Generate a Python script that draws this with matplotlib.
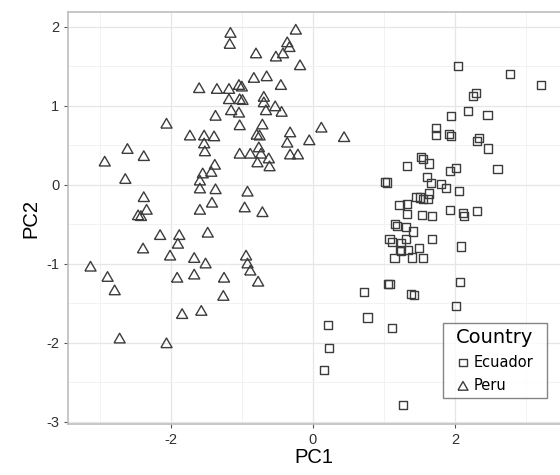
import matplotlib

matplotlib.use("Agg")
import matplotlib.pyplot as plt
from matplotlib.path import Path
from matplotlib.ticker import MultipleLocator

# PCA scores
peru_pc1 = [
    -1.16, -1.17, -0.80, -0.83, -1.60, -1.35, -1.18, -1.04, -1.00, -1.18,
    -1.03, -0.99, -1.15, -1.04, -1.37, -2.06, -1.03, -1.73, -1.53, -1.39,
    -1.53, -1.52, -2.61, -2.38, -2.93, -2.64, -1.38, -1.43, -1.55, -1.59,
    -1.59, -1.37, -0.92, -1.42, -1.59, -0.96, -2.38, -2.34, -2.46, -2.42,
    -2.15, -1.88, -1.90, -1.48, -2.39, -2.01, -1.67, -1.51, -3.13, -2.89,
    -2.79, -1.91, -1.67, -1.25, -1.26, -1.84, -1.57, -2.72, -2.06, -0.24,
    -0.36, -0.33, -0.42, -0.52, -0.18, -0.65, -0.45, -0.69, -0.69, -0.66,
    -0.53, -0.44, -0.71, -0.79, -0.75, 0.12, 0.44, -0.32, -0.36, -0.05,
    -1.03, -0.88, -0.76, -0.73, -0.62, -0.78, -0.61, -0.32, -0.21, -0.71,
    -0.94, -0.92, -0.88, -0.77,
]
peru_pc2 = [
    1.93, 1.79, 1.67, 1.36, 1.23, 1.22, 1.22, 1.27, 1.25, 1.09,
    1.09, 1.08, 0.95, 0.92, 0.88, 0.78, 0.76, 0.63, 0.63, 0.62,
    0.53, 0.43, 0.46, 0.37, 0.30, 0.08, 0.26, 0.17, 0.15, 0.06,
    -0.04, -0.05, -0.08, -0.22, -0.31, -0.28, -0.15, -0.31, -0.38, -0.39,
    -0.63, -0.63, -0.74, -0.60, -0.80, -0.89, -0.92, -0.99, -1.03, -1.16,
    -1.33, -1.17, -1.13, -1.17, -1.40, -1.63, -1.59, -1.94, -2.00, 1.97,
    1.81, 1.75, 1.67, 1.63, 1.52, 1.38, 1.27, 1.12, 1.05, 0.95,
    1.00, 0.93, 0.77, 0.64, 0.63, 0.73, 0.61, 0.67, 0.54, 0.57,
    0.40, 0.40, 0.48, 0.40, 0.34, 0.29, 0.24, 0.39, 0.39, -0.34,
    -0.89, -0.99, -1.08, -1.22,
]
ecuador_pc1 = [
    0.72, 0.77, 0.21, 0.23, 0.16, 2.05, 2.78, 3.21, 2.30, 2.25,
    2.18, 2.46, 1.95, 1.73, 1.74, 1.92, 1.95, 2.34, 2.31, 2.47,
    1.52, 1.55, 1.63, 1.32, 2.60, 2.01, 1.93, 1.02, 1.04, 1.61,
    1.67, 1.80, 1.88, 2.06, 1.46, 1.51, 1.55, 1.62, 1.64, 1.22,
    1.33, 1.33, 1.54, 1.68, 1.93, 2.12, 2.13, 2.31, 1.16, 1.18,
    1.31, 1.41, 1.68, 1.08, 1.12, 1.31, 1.24, 1.23, 1.24, 1.34,
    1.50, 1.15, 1.40, 1.55, 2.08, 2.07, 2.01, 1.06, 1.08, 1.38,
    1.43, 1.11, 1.27,
]
ecuador_pc2 = [
    -1.36, -1.68, -1.77, -2.06, -2.34, 1.51, 1.40, 1.26, 1.16, 1.13,
    0.93, 0.89, 0.87, 0.72, 0.63, 0.64, 0.62, 0.59, 0.55, 0.46,
    0.35, 0.33, 0.27, 0.24, 0.20, 0.21, 0.17, 0.04, 0.03, 0.10,
    0.02, 0.01, -0.04, -0.08, -0.15, -0.16, -0.18, -0.18, -0.11, -0.26,
    -0.24, -0.37, -0.38, -0.40, -0.32, -0.36, -0.39, -0.33, -0.49, -0.52,
    -0.53, -0.59, -0.69, -0.69, -0.72, -0.68, -0.74, -0.83, -0.84, -0.83,
    -0.80, -0.93, -0.92, -0.93, -0.78, -1.23, -1.53, -1.25, -1.25, -1.38,
    -1.39, -1.81, -2.79,
]

# equilateral triangle, like ggplot shape 2
TRIANGLE = [(-1, -0.866), (1, -0.866), (0, 0.866), (-1, -0.866)]
EDGE = "#3c3c3c"


def wide_box(x0, y0, width, height, mutation_size):
    # legend frame with extra room left and right only
    x0 -= 8
    width += 16
    return Path([(x0, y0), (x0 + width, y0), (x0 + width, y0 + height),
                 (x0, y0 + height), (x0, y0)], closed=True)


def main() -> None:
    plt.rcParams["font.family"] = ["Liberation Sans", "DejaVu Sans"]
    plt.rcParams["axes.unicode_minus"] = False
    fig = plt.figure(figsize=(5.6, 4.75), dpi=100)
    ax = fig.add_axes([0.121, 0.107, 0.879, 0.868])

    ax.scatter(ecuador_pc1, ecuador_pc2, marker="s", s=34, facecolors="none",
               edgecolors=EDGE, linewidths=1.0, label="Ecuador", zorder=3)
    ax.scatter(peru_pc1, peru_pc2, marker=TRIANGLE, s=64, facecolors="none",
               edgecolors=EDGE, linewidths=1.0, label="Peru", zorder=3)

    ax.set_xlim(-3.45, 3.48)
    ax.set_ylim(-3.03, 2.19)
    ax.xaxis.set_major_locator(MultipleLocator(2))
    ax.xaxis.set_minor_locator(MultipleLocator(1))
    ax.yaxis.set_major_locator(MultipleLocator(1))
    ax.yaxis.set_minor_locator(MultipleLocator(0.5))

    ax.grid(which="major", color="#e6e6e6", linewidth=0.9)
    ax.grid(which="minor", color="#f2f2f2", linewidth=0.7)
    ax.set_axisbelow(True)
    ax.tick_params(which="major", length=3, width=0.8, color="#555555",
                   labelsize=10.5, labelcolor="#303030", pad=3)
    ax.tick_params(which="minor", length=0)

    for side in ("left", "top", "bottom"):
        ax.spines[side].set_color("#bdbdbd")
        ax.spines[side].set_linewidth(1.2)
    ax.spines["right"].set_visible(False)

    ax.set_xlabel("PC1", fontsize=14.5, labelpad=1)
    ax.set_ylabel("PC2", fontsize=14.5, labelpad=4)

    leg = ax.legend(title="Country", loc="lower right",
                    bbox_to_anchor=(0.957, 0.064), frameon=True, fancybox=False,
                    prop={"family": "DejaVu Sans", "size": 10.5},
                    handletextpad=0.3, borderpad=0.35, borderaxespad=0,
                    labelspacing=0.55, handlelength=0.9, markerscale=0.9)
    leg.get_title().set_fontfamily("DejaVu Sans")
    leg.get_title().set_fontsize(14)
    frame = leg.get_frame()
    frame.set_boxstyle(wide_box)
    frame.set_edgecolor("#666666")
    frame.set_linewidth(1.0)

    fig.savefig("out.png", dpi=100)
    plt.close(fig)


if __name__ == "__main__":
    main()
